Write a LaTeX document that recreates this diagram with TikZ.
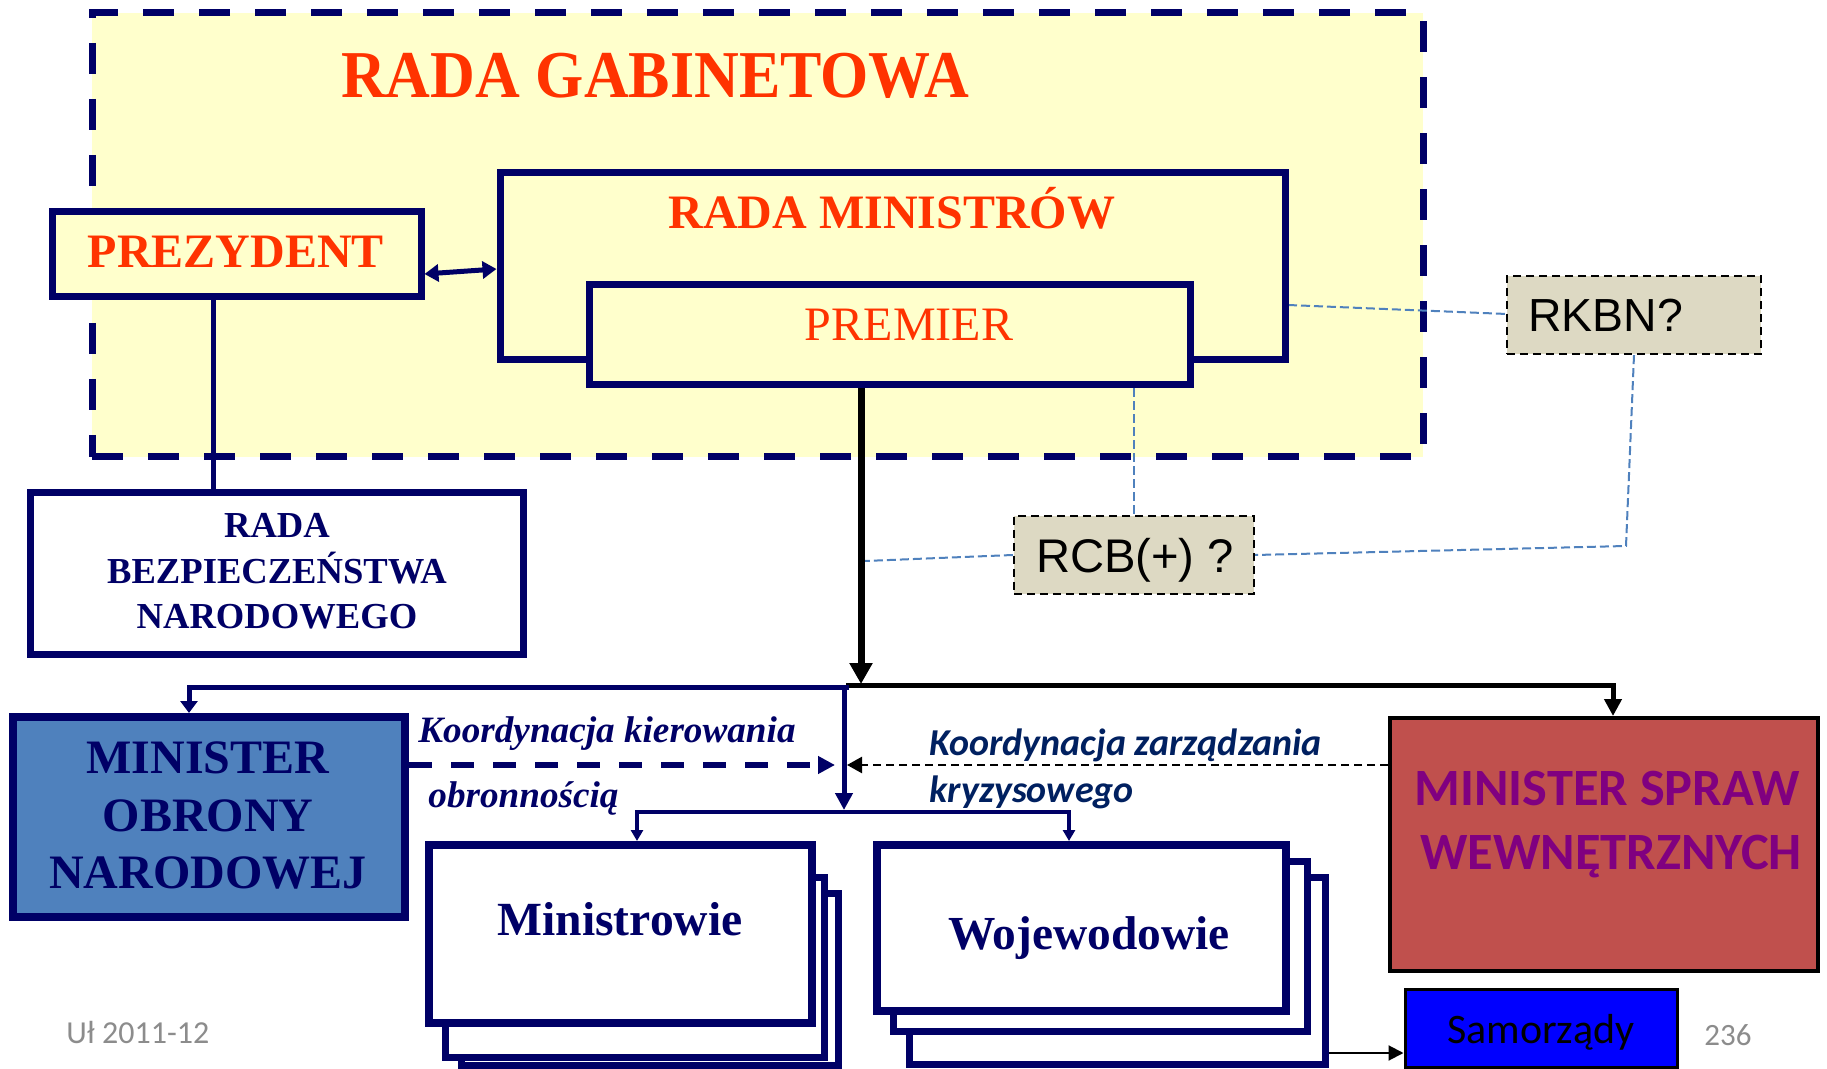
\documentclass[tikz,border=0pt]{standalone}
\usepackage{fontspec}
\setmainfont{Liberation Serif}
\newfontfamily\calfont{Carlito}
\newfontfamily\arifont{Liberation Sans}
\usetikzlibrary{arrows.meta,fit}
\definecolor{navy}{RGB}{0,0,102}
\definecolor{navyb}{RGB}{0,32,96}
\definecolor{orng}{RGB}{255,51,0}
\definecolor{lyel}{RGB}{255,255,204}
\definecolor{monblue}{RGB}{79,129,189}
\definecolor{mswred}{RGB}{192,80,77}
\definecolor{purp}{RGB}{128,0,128}
\definecolor{tanb}{RGB}{221,217,195}
\definecolor{dblue}{RGB}{79,129,189}
\definecolor{grayt}{RGB}{140,140,140}
\newcommand\fsz[1]{\fontsize{#1}{#1}\selectfont}
\begin{document}
\begin{tikzpicture}[x=0.5pt,y=-0.5pt,
  nbox/.style={draw=navy,line width=3.5pt,inner sep=0pt,fill=white},
  ybox/.style={nbox,fill=lyel},
  tbox/.style={draw=black,line width=1.2pt,dash pattern=on 4pt off 2.5pt,fill=tanb,inner sep=0pt},
  lbl/.style={inner sep=0pt,anchor=base},
  lblw/.style={inner sep=0pt,anchor=base west},
  bdash/.style={draw=dblue,line width=1pt,dash pattern=on 4.5pt off 2pt},
  nline/.style={draw=navy,line width=2.5pt},
]
\fill[white] (0,0) rectangle (1827,1069);
\useasboundingbox (0,0) rectangle (1827,1069);

% outer cabinet council
\node[fit={(92,13)(1423,457)},inner sep=0pt,draw=navy,fill=lyel,line width=3.5pt,dash pattern=on 15.5pt off 12.5pt] (rg) {};
\node[lbl,text=orng,font=\bfseries\fsz{31pt},yscale=1.08] (rgt) at (655,98) {RADA GABINETOWA};

% connectors in the upper part
\coordinate (pr) at (213,0);
\coordinate (j1) at (861,684);
\draw[bdash] (1288,305) -- (1507,314);

% PREZYDENT
\node[ybox,fit={(52,212)(421,297)}] (prez) {};
\node[lbl,text=orng,font=\bfseries\fsz{24pt}] (prezt) at (236,268) {PREZYDENT};

% RADA MINISTROW / PREMIER
\node[ybox,fit={(500,173)(1285,360)}] (rm) {};
\node[lbl,text=orng,font=\bfseries\fsz{24pt}] (rmt) at (892,229) {RADA MINISTRÓW};
\node[ybox,fit={(589,285)(1190,385)}] (prem) {};
\node[lbl,text=orng,font=\fsz{24pt}] (premt) at (909,341) {PREMIER};

\draw[navy,line width=2.5pt,{Triangle[length=7pt,width=8.5pt]}-{Triangle[length=7pt,width=8.5pt]}] (prez.east |- 0,274) -- (rm.west |- 0,269);

% RBN
\node[nbox,fit={(30,493)(523,654)}] (rbn) {};
\node[lbl,text=navy,font=\bfseries\fsz{18.3pt}] (rbn1) at (277,538) {RADA};
\node[lbl,text=navy,font=\bfseries\fsz{18.3pt}] (rbn2) at (277,583) {BEZPIECZEŃSTWA};
\node[lbl,text=navy,font=\bfseries\fsz{18.3pt}] (rbn3) at (277,629) {NARODOWEGO};
\draw[nline] (prez.south -| pr) -- (rbn.north -| pr);

% RKBN / RCB
\node[tbox,fit={(1507,276)(1761,354)}] (rkbn) {};
\node[lblw,font=\arifont\fsz{23.2pt}] (rkbnt) at (1528,332) {RKBN?};
\node[tbox,fit={(1014,516)(1254,594)}] (rcb) {};
\node[lbl,font=\arifont\fsz{23.6pt}] (rcbt) at (1135,573) {RCB(+) ?};
\draw[bdash] (rkbn.south) -- (1626,546) -- (rcb.east);
\draw[bdash] (prem.south -| rcb.north) -- (rcb.north);
\draw[bdash] (rcb.west) -- (865,561);

% main black arrow
\draw[black,line width=3.5pt,-{Triangle[length=10.5pt,width=11pt]}] (prem.south -| j1) -- (j1);

% lower boxes
\node[nbox,fill=monblue,line width=4pt,fit={(13,717)(405,917)}] (mon) {};
\node[lbl,text=navy,font=\bfseries\fsz{24pt}] (mon1) at (208,773) {MINISTER};
\node[lbl,text=navy,font=\bfseries\fsz{24pt}] (mon2) at (208,831) {OBRONY};
\node[lbl,text=navy,font=\bfseries\fsz{24pt}] (mon3) at (208,888) {NARODOWEJ};

\node[draw=black,line width=2pt,fill=mswred,inner sep=0pt,fit={(1390,718)(1818,971)}] (msw) {};
\node[lbl,text=purp,font=\calfont\bfseries\fsz{26.2pt}] (msw1) at (1607,805) {MINISTER SPRAW};
\node[lbl,text=purp,font=\calfont\bfseries\fsz{26.2pt}] (msw2) at (1611,869) {WEWNĘTRZNYCH};

\node[nbox,fit={(461,893)(838,1065)}] (min3) {};
\node[nbox,fit={(445,877)(824,1057)}] (min2) {};
\node[nbox,line width=4pt,fit={(429,845)(812,1023)}] (min) {};
\node[lbl,text=navy,font=\bfseries\fsz{23.8pt}] (mint) at (620,935) {Ministrowie};

\node[nbox,fit={(909,877)(1325,1064)}] (woj3) {};
\node[nbox,fit={(893,861)(1307,1031)}] (woj2) {};
\node[nbox,line width=4pt,fit={(877,845)(1286,1011)}] (woj) {};
\node[lbl,text=navy,font=\bfseries\fsz{23.7pt}] (wojt) at (1089,949) {Wojewodowie};

\node[draw=black,line width=1.5pt,fill=blue,inner sep=0pt,fit={(1405,989)(1677,1067)}] (sam) {};
\node[lbl,font=\calfont\fsz{21pt}] (samt) at (1541,1043) {Samorządy};

% connectors lower part
\coordinate (j0) at (846,685);
\coordinate (m1) at (1613,685);
\draw[black,line width=2.5pt,-{Triangle[length=8.5pt,width=8.5pt]}] (j0) -- (m1) -- (msw.north -| m1);

\coordinate (n0) at (849,687);
\coordinate (n1) at (189,687);
\draw[nline,-{Triangle[length=6pt,width=8.5pt]}] (n0) -- (n1) -- (mon.north -| n1);

\coordinate (j2) at (844,687);
\coordinate (j3) at (844,810);
\draw[nline,-{Triangle[length=8.5pt,width=8.5pt]}] (j2) -- (j3);

\coordinate (k1) at (637,812);
\coordinate (k2) at (1069,812);
\draw[navy,line width=2pt,-{Triangle[length=5.5pt,width=6pt]}] (k2) -- (k1) -- (min.north -| k1);
\draw[navy,line width=2pt,-{Triangle[length=5.5pt,width=6pt]}] (k1) -- (k2) -- (woj.north -| k2);

\coordinate (d1) at (835,765);
\coordinate (d2) at (847,765);
\draw[navy,line width=3pt,dash pattern=on 11.5pt off 9.5pt,-{Triangle[length=8.5pt,width=8.5pt]}] (mon.east |- d1) -- (d1);
\draw[black,line width=1.2pt,dash pattern=on 4pt off 2.5pt,-{Triangle[length=7.5pt,width=8pt]}] (msw.west |- d2) -- (d2);

\coordinate (s1) at (0,1053);
\draw[black,line width=1pt,-{Triangle[length=7.5pt,width=7.5pt]}] (woj3.east |- s1) -- (sam.west |- s1);

% labels
\node[lblw,text=navy,font=\bfseries\itshape\fsz{18.6pt}] (kk1) at (418,742) {Koordynacja kierowania};
\node[lblw,text=navy,font=\bfseries\itshape\fsz{18.6pt}] (kk2) at (428,807) {obronnością};
\node[lblw,text=navyb,font=\calfont\bfseries\itshape\fsz{19pt}] (kz1) at (929,755) {Koordynacja zarządzania};
\node[lblw,text=navyb,font=\calfont\bfseries\itshape\fsz{19pt}] (kz2) at (929,802) {kryzysowego};

\node[lblw,text=grayt,font=\calfont\fsz{16pt}] (ul) at (66,1043) {Uł 2011-12};
\node[lbl,text=grayt,font=\calfont\fsz{15.5pt}] (pg) at (1728,1045) {236};
\end{tikzpicture}
\end{document}
